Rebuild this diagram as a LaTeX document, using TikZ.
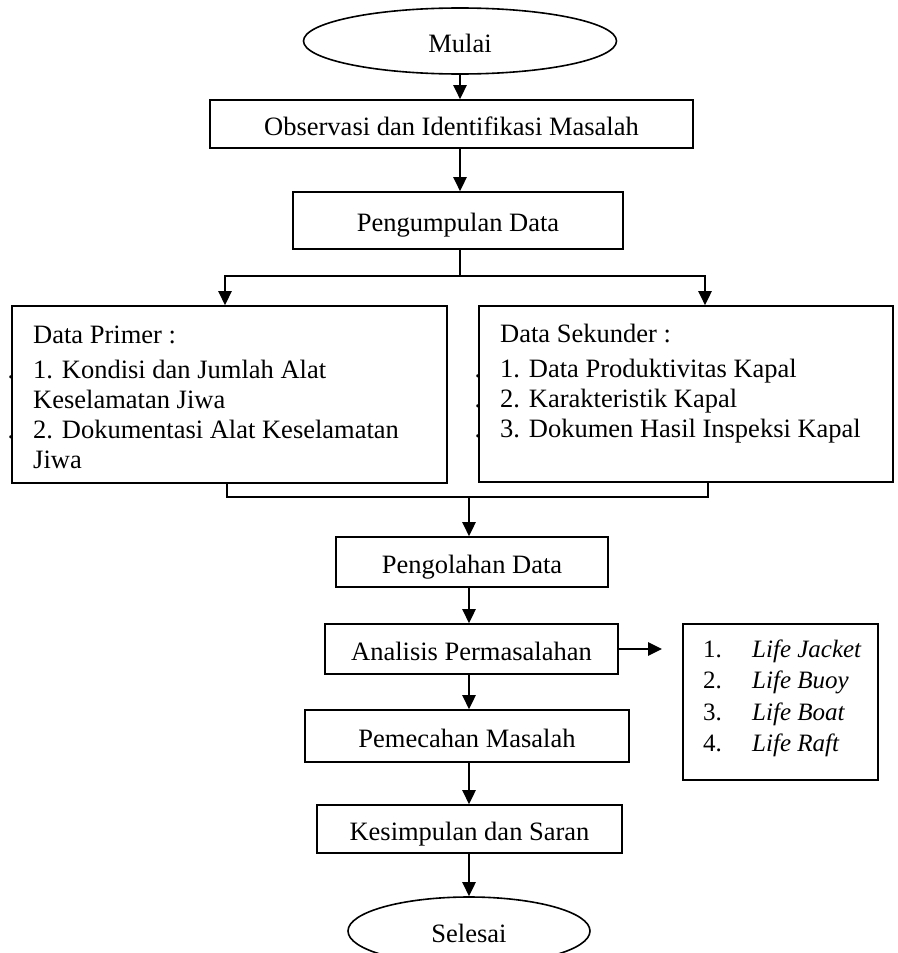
\documentclass[tikz,border=0pt]{standalone}
\usepackage{fontspec}
\setmainfont{Liberation Serif}
\usetikzlibrary{shapes.geometric,arrows.meta}
\newcommand{\listdot}{\leavevmode\llap{.\hspace{19pt}}}
\begin{document}
\begin{tikzpicture}[x=1pt,y=-1pt,
    font=\fontsize{26.5}{30}\selectfont,
    box/.style={draw, line width=1.6pt, inner sep=0pt, text height=22pt, text depth=0pt},
    terminal/.style={box, ellipse},
    listtext/.style={anchor=base west, inner sep=0pt, align=flush left, text width=#1},
    flow/.style={line width=2.6pt, -{Triangle[length=14pt,width=13pt]}},
    link/.style={line width=1.8pt}]
  \useasboundingbox (0,0) rectangle (897,953);
  % Terminals and process boxes:
  \node[terminal, minimum width=313pt, minimum height=66pt] (mulai) at (460,41) {Mulai};
  \node[box, minimum width=483pt, minimum height=48pt] (observasi) at (451.5,124) {Observasi dan Identifikasi Masalah};
  \node[box, minimum width=330pt, minimum height=57pt] (pengumpulan) at (458,220.5) {Pengumpulan Data};
  \node[box, minimum width=435pt, minimum height=177pt] (primer) at (229.5,394.5) {};
  \node[box, minimum width=414pt, minimum height=176pt] (sekunder) at (686,394) {};
  \node[box, minimum width=272pt, minimum height=50pt] (pengolahan) at (472,562) {Pengolahan Data};
  \node[box, minimum width=293pt, minimum height=50pt] (analisis) at (471.5,649) {Analisis Permasalahan};
  \node[box, minimum width=195pt, minimum height=156pt] (alat) at (780.5,702) {};
  \node[box, minimum width=324pt, minimum height=52pt] (pemecahan) at (467,736) {Pemecahan Masalah};
  \node[box, minimum width=305pt, minimum height=48pt] (kesimpulan) at (469.5,829) {Kesimpulan dan Saran};
  \node[terminal, minimum width=242pt, minimum height=68pt] (selesai) at (469,931) {Selesai};
  %
  % Box contents:
  \node[listtext=420pt] (primertext) at (33,343) {Data Primer :\\[5pt]
    \listdot 1. Kondisi dan Jumlah Alat\\
    Keselamatan Jiwa\\
    \listdot 2. Dokumentasi Alat Keselamatan\\
    Jiwa};
  \node[listtext=390pt] (sekundertext) at (500,342) {Data Sekunder :\\[5pt]
    \listdot 1. Data Produktivitas Kapal\\
    \listdot 2. Karakteristik Kapal\\
    \listdot 3. Dokumen Hasil Inspeksi Kapal};
  \node[listtext=175pt, font=\fontsize{25}{31.5}\selectfont] (alattext) at (703,657) {%
    \makebox[49pt][l]{1.}\textit{Life Jacket}\\
    \makebox[49pt][l]{2.}\textit{Life Buoy}\\
    \makebox[49pt][l]{3.}\textit{Life Boat}\\
    \makebox[49pt][l]{4.}\textit{Life Raft}};
  %
  % Flow Edges:
  \coordinate (split) at (460,276);
  \coordinate (merge) at (469,497);
  \coordinate (alattip) at (662,649);
  \draw[flow] (mulai.south) -- (mulai.south |- observasi.north);
  \draw[flow] (observasi.south -| mulai.south) -- (pengumpulan.north -| mulai.south);
  \draw[link] (pengumpulan.south -| split) -- (split);
  \draw[flow] (split) -| ([xshift=-4.5pt]primer.north);
  \draw[flow] (split) -| ([xshift=19pt]sekunder.north);
  \draw[link] ([xshift=-2.5pt]primer.south) |- (merge) -| ([xshift=22pt]sekunder.south);
  \draw[flow] (merge) -- (merge |- pengolahan.north);
  \draw[flow] (pengolahan.south -| merge) -- (analisis.north -| merge);
  \draw[flow] (analisis.east) -- (alattip);
  \draw[flow] (analisis.south -| merge) -- (pemecahan.north -| merge);
  \draw[flow] (pemecahan.south -| merge) -- (kesimpulan.north -| merge);
  \draw[flow] (kesimpulan.south -| merge) -- (selesai.north -| merge);
\end{tikzpicture}
\end{document}
